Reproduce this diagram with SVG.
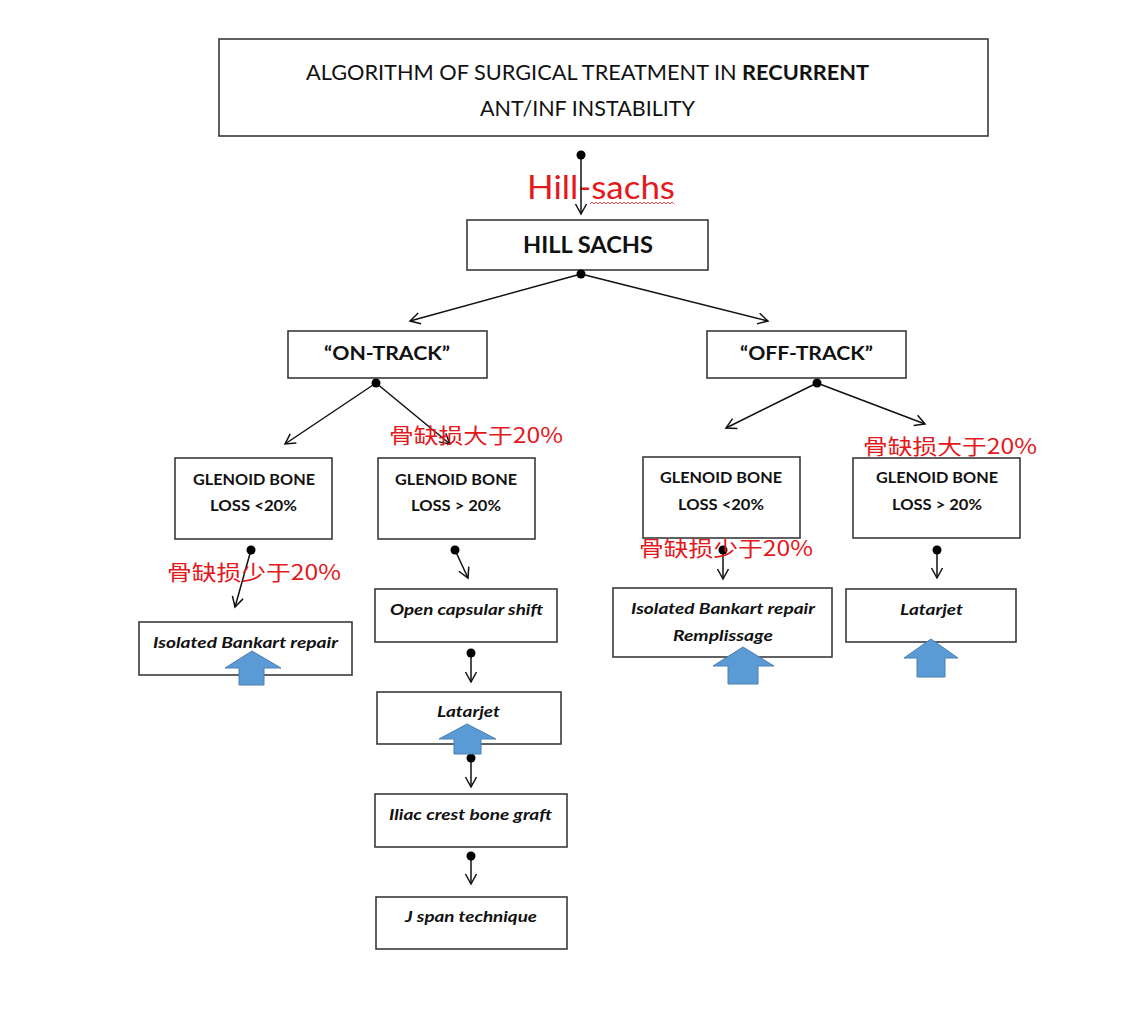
<svg xmlns="http://www.w3.org/2000/svg" width="1128" height="1009" viewBox="0 0 1128 1009">
<style>
.box{fill:#fff;stroke:#3a3a3a;stroke-width:1.6}
.t{font-family:Lato,"Liberation Sans",sans-serif;fill:#111;text-anchor:middle}
.b{font-weight:bold}
.bi{font-weight:bold;font-style:italic}
.red{font-family:"Noto Sans CJK SC","Liberation Sans",sans-serif;fill:#e3191c}
.con{stroke:#111;stroke-width:1.5;fill:none}
.dot{fill:#000}
.blue{fill:#5b9bd5;stroke:#4a7eb0;stroke-width:1}
</style>
<defs>
<marker id="ah" markerUnits="userSpaceOnUse" markerWidth="14" markerHeight="14" refX="11" refY="6" orient="auto" viewBox="0 0 14 12">
<path d="M1,0.5 L11,6 L1,11.5" fill="none" stroke="#111" stroke-width="1.5"/>
</marker>
</defs>
<rect width="1128" height="1009" fill="#fff"/>

<g id="title">
<rect class="box" x="219" y="39" width="769" height="97"/>
<text class="t" x="587.5" y="80" font-size="21" textLength="563" lengthAdjust="spacingAndGlyphs">ALGORITHM OF SURGICAL TREATMENT IN <tspan class="b">RECURRENT</tspan></text>
<text class="t" x="587.5" y="116" font-size="21" textLength="215" lengthAdjust="spacingAndGlyphs">ANT/INF INSTABILITY</text>
</g>

<g id="hill-sachs-label">
<text x="527" y="199" font-family="Lato,'Liberation Sans',sans-serif" font-size="32" fill="#e3191c" textLength="148" lengthAdjust="spacingAndGlyphs">Hill-sachs</text>
<path d="M590,204 l2,-2 2,2 2,-2 2,2 2,-2 2,2 2,-2 2,2 2,-2 2,2 2,-2 2,2 2,-2 2,2 2,-2 2,2 2,-2 2,2 2,-2 2,2 2,-2 2,2 2,-2 2,2 2,-2 2,2 2,-2 2,2 2,-2 2,2 2,-2 2,2 2,-2 2,2 2,-2 2,2 2,-2 2,2 2,-2 2,2 2,-2 2,2" fill="none" stroke="#e3191c" stroke-width="0.8"/>
</g>

<g id="hill-sachs">
<rect class="box" x="467" y="220" width="241" height="50"/>
<text class="t b" x="588" y="253" font-size="22" textLength="130" lengthAdjust="spacingAndGlyphs">HILL SACHS</text>
</g>

<g id="on-track">
<rect class="box" x="288" y="331" width="199" height="47"/>
<text class="t b" x="387" y="360" font-size="19" textLength="126" lengthAdjust="spacingAndGlyphs">“ON-TRACK”</text>
</g>

<g id="off-track">
<rect class="box" x="707" y="331" width="199" height="47"/>
<text class="t b" x="806.5" y="360" font-size="19" textLength="133" lengthAdjust="spacingAndGlyphs">“OFF-TRACK”</text>
</g>

<g id="glenoid-a">
<rect class="box" x="175" y="458" width="157" height="81"/>
<text class="t b" x="254" y="485" font-size="16" textLength="122" lengthAdjust="spacingAndGlyphs">GLENOID BONE</text>
<text class="t b" x="253.5" y="511" font-size="16" textLength="87" lengthAdjust="spacingAndGlyphs">LOSS &lt;20%</text>
</g>

<g id="glenoid-b">
<rect class="box" x="378" y="458" width="157" height="81"/>
<text class="t b" x="456" y="485" font-size="16" textLength="122" lengthAdjust="spacingAndGlyphs">GLENOID BONE</text>
<text class="t b" x="456" y="511" font-size="16" textLength="90" lengthAdjust="spacingAndGlyphs">LOSS &gt; 20%</text>
</g>

<g id="glenoid-c">
<rect class="box" x="643" y="457" width="157" height="81"/>
<text class="t b" x="721" y="483" font-size="16" textLength="122" lengthAdjust="spacingAndGlyphs">GLENOID BONE</text>
<text class="t b" x="721" y="510" font-size="16" textLength="86" lengthAdjust="spacingAndGlyphs">LOSS &lt;20%</text>
</g>

<g id="glenoid-d">
<rect class="box" x="853" y="458" width="167" height="80"/>
<text class="t b" x="937" y="483" font-size="16" textLength="122" lengthAdjust="spacingAndGlyphs">GLENOID BONE</text>
<text class="t b" x="937" y="510" font-size="16" textLength="90" lengthAdjust="spacingAndGlyphs">LOSS &gt; 20%</text>
</g>

<g id="bankart-left">
<rect class="box" x="139" y="622" width="213" height="53"/>
<text class="t bi" x="245.5" y="648" font-size="16" textLength="185" lengthAdjust="spacingAndGlyphs">Isolated Bankart repair</text>
</g>

<g id="open-capsular-shift">
<rect class="box" x="375" y="589" width="182" height="53"/>
<text class="t bi" x="466.5" y="615" font-size="16" textLength="153" lengthAdjust="spacingAndGlyphs">Open capsular shift</text>
</g>

<g id="latarjet-middle">
<rect class="box" x="377" y="692" width="184" height="52"/>
<text class="t bi" x="468.5" y="717" font-size="16" textLength="63" lengthAdjust="spacingAndGlyphs">Latarjet</text>
</g>

<g id="iliac">
<rect class="box" x="375" y="794" width="192" height="53"/>
<text class="t bi" x="470.5" y="820" font-size="16" textLength="163" lengthAdjust="spacingAndGlyphs">Iliac crest bone graft</text>
</g>

<g id="j-span">
<rect class="box" x="376" y="897" width="191" height="52"/>
<text class="t bi" x="471" y="922" font-size="16" textLength="132" lengthAdjust="spacingAndGlyphs">J span technique</text>
</g>

<g id="bankart-right">
<rect class="box" x="613" y="588" width="219" height="69"/>
<text class="t bi" x="723" y="614" font-size="16" textLength="184" lengthAdjust="spacingAndGlyphs">Isolated Bankart repair</text>
<text class="t bi" x="723" y="641" font-size="16" textLength="100" lengthAdjust="spacingAndGlyphs">Remplissage</text>
</g>

<g id="latarjet-right">
<rect class="box" x="846" y="589" width="170" height="53"/>
<text class="t bi" x="931.5" y="615" font-size="16" textLength="63" lengthAdjust="spacingAndGlyphs">Latarjet</text>
</g>

<g id="connectors">
<line class="con" x1="581" y1="155" x2="581" y2="214" marker-end="url(#ah)"/>
<line class="con" x1="581" y1="274" x2="410" y2="321" marker-end="url(#ah)"/>
<line class="con" x1="581" y1="274" x2="768" y2="321" marker-end="url(#ah)"/>
<line class="con" x1="376" y1="383" x2="285" y2="444" marker-end="url(#ah)"/>
<line class="con" x1="376" y1="383" x2="450" y2="444" marker-end="url(#ah)"/>
<line class="con" x1="817" y1="383" x2="726" y2="428" marker-end="url(#ah)"/>
<line class="con" x1="817" y1="383" x2="925" y2="424" marker-end="url(#ah)"/>
<line class="con" x1="251" y1="550" x2="235" y2="607" marker-end="url(#ah)"/>
<line class="con" x1="455" y1="550" x2="468" y2="578" marker-end="url(#ah)"/>
<line class="con" x1="471" y1="653" x2="471" y2="682" marker-end="url(#ah)"/>
<line class="con" x1="471" y1="758" x2="471" y2="787" marker-end="url(#ah)"/>
<line class="con" x1="471" y1="856" x2="471" y2="884" marker-end="url(#ah)"/>
<line class="con" x1="723" y1="550" x2="723" y2="579" marker-end="url(#ah)"/>
<line class="con" x1="937" y1="550" x2="937" y2="578" marker-end="url(#ah)"/>
<circle class="dot" cx="581" cy="155" r="4.5"/>
<circle class="dot" cx="581" cy="274" r="4.5"/>
<circle class="dot" cx="376" cy="383" r="4.5"/>
<circle class="dot" cx="817" cy="383" r="4.5"/>
<circle class="dot" cx="251" cy="550" r="4.5"/>
<circle class="dot" cx="455" cy="550" r="4.5"/>
<circle class="dot" cx="471" cy="653" r="4.5"/>
<circle class="dot" cx="471" cy="758" r="4.5"/>
<circle class="dot" cx="471" cy="856" r="4.5"/>
<circle class="dot" cx="723" cy="550" r="4.5"/>
<circle class="dot" cx="937" cy="550" r="4.5"/>
</g>

<g id="red-labels">
<text class="red" x="389" y="443" font-size="21" textLength="174" lengthAdjust="spacingAndGlyphs">骨缺损大于20%</text>
<text class="red" x="863" y="454" font-size="21" textLength="174" lengthAdjust="spacingAndGlyphs">骨缺损大于20%</text>
<text class="red" x="167" y="580" font-size="21" textLength="174" lengthAdjust="spacingAndGlyphs">骨缺损少于20%</text>
<text class="red" x="639" y="556" font-size="21" textLength="174" lengthAdjust="spacingAndGlyphs">骨缺损少于20%</text>
</g>

<g id="blue-arrows">
<path class="blue" d="M252,651 L281,668 L264,668 L264,685 L239,685 L239,668 L225,668 Z"/>
<path class="blue" d="M467,724 L496,739 L481,739 L481,754 L454,754 L454,739 L439,739 Z"/>
<path class="blue" d="M743,647 L774,666 L758,666 L758,684 L728,684 L728,666 L713,666 Z"/>
<path class="blue" d="M931,639 L958,658 L945,658 L945,677 L917,677 L917,658 L904,658 Z"/>
</g>
</svg>
